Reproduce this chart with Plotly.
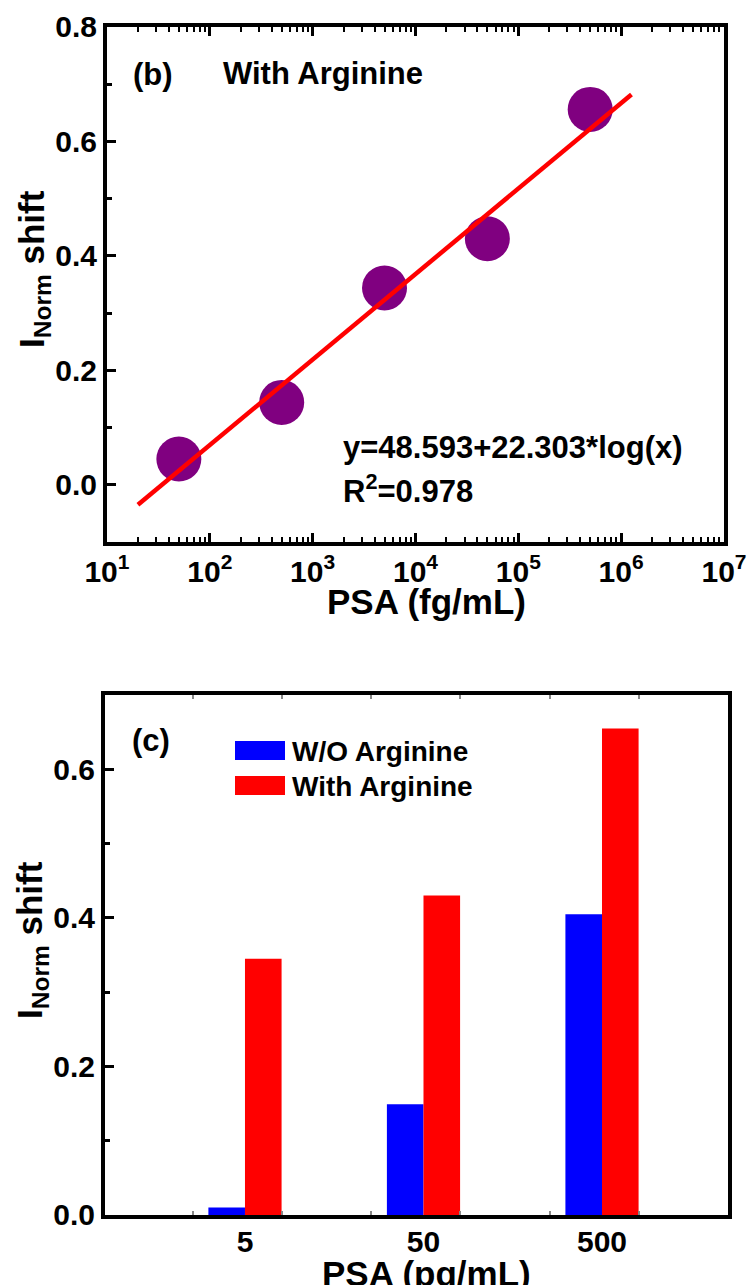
import plotly.graph_objects as go

# ---------------- Panel (b) data ----------------
psa_fg = [50, 500, 5000, 50000, 500000]
shift_b = [0.045, 0.144, 0.344, 0.430, 0.656]
fit_x = [20, 1.26e6]
fit_y = [-0.035, 0.682]
log_tick_vals = [1e1, 1e2, 1e3, 1e4, 1e5, 1e6, 1e7]
log_tick_text = ["10<sup>1</sup>", "10<sup>2</sup>", "10<sup>3</sup>", "10<sup>4</sup>",
                 "10<sup>5</sup>", "10<sup>6</sup>", "10<sup>7</sup>"]

# ---------------- Panel (c) data ----------------
categories = ["5", "50", "500"]
wo_arginine = [0.010, 0.149, 0.405]
with_arginine = [0.345, 0.430, 0.655]

FONT = "Liberation Sans"
BLACK = "#000000"
W, H = 747, 1285
cat_idx = list(range(len(categories)))
minor_log = [k * 10 ** n for n in range(1, 7) for k in range(2, 10)]

fig = go.Figure()

fig.add_trace(go.Scatter(
    x=psa_fg, y=shift_b, mode="markers", name="With Arginine",
    marker=dict(size=45, color="#800080", line=dict(width=0)),
    xaxis="x", yaxis="y", showlegend=False))
fig.add_trace(go.Scatter(
    x=fit_x, y=fit_y, mode="lines", name="Linear fit",
    line=dict(color="#ff0000", width=4.5),
    xaxis="x", yaxis="y", showlegend=False))

fig.add_trace(go.Bar(
    x=cat_idx, y=wo_arginine, name="W/O Arginine",
    marker=dict(color="#0000ff", line=dict(width=0)),
    xaxis="x2", yaxis="y2", showlegend=False))
fig.add_trace(go.Bar(
    x=cat_idx, y=with_arginine, name="With Arginine",
    marker=dict(color="#ff0000", line=dict(width=0)),
    xaxis="x2", yaxis="y2", showlegend=False))

tickfont = dict(family=FONT, size=30, color=BLACK, weight="bold")
titlefont = dict(family=FONT, size=35, color=BLACK, weight="bold")
annfont = dict(family=FONT, size=31, color=BLACK, weight="bold")
legfont = dict(family=FONT, size=28, color=BLACK, weight="bold")

axis_common = dict(showline=True, linecolor=BLACK, linewidth=4, showgrid=False,
                   zeroline=False, ticks="inside", tickcolor=BLACK, tickwidth=3,
                   tickfont=tickfont, automargin=False)

fig.update_layout(
    width=W, height=H,
    margin=dict(l=0, r=0, t=0, b=0, autoexpand=False),
    paper_bgcolor="white", plot_bgcolor="white",
    barmode="group", bargap=0.59, bargroupgap=0,
    xaxis=dict(axis_common, type="log", domain=[0.1432, 0.9692], range=[1, 7],
               anchor="y", mirror="ticks", tickmode="array",
               tickvals=log_tick_vals, ticktext=log_tick_text, ticklen=9,
               ticklabelstandoff=0,
               minor=dict(ticks="inside", ticklen=5, tickwidth=2, tickcolor=BLACK,
                          tickmode="array", tickvals=minor_log)),
    yaxis=dict(axis_common, domain=[0.5782, 0.979], range=[-0.1, 0.8],
               anchor="x", mirror=True, tick0=0, dtick=0.2, ticklen=9,
               tickformat=".1f",
               minor=dict(ticks="inside", ticklen=5, tickwidth=3, tickcolor=BLACK,
                          tick0=0, dtick=0.1)),
    xaxis2=dict(axis_common, domain=[0.1406, 0.9746], range=[-0.784, 2.706],
                anchor="y2", mirror="ticks", tickmode="array",
                tickvals=cat_idx, ticktext=categories, ticklen=0,
                ticklabelstandoff=-3,
                minor=dict(ticks="inside", ticklen=4, tickwidth=2, tickcolor="#888888",
                           tick0=0.207, dtick=0.5)),
    yaxis2=dict(axis_common, domain=[0.0545, 0.4591], range=[0, 0.7],
                anchor="x2", mirror=True, tick0=0, dtick=0.2, ticklen=9,
                tickformat=".1f",
                minor=dict(ticks="inside", ticklen=5, tickwidth=3, tickcolor=BLACK,
                           tick0=0, dtick=0.1)),
)

def px(x, y):
    return x / W, 1 - y / H

# axis titles
titles = [
    ("PSA (fg/mL)", 426, 601, 0),
    ("PSA (pg/mL)", 426, 1273, 0),
    ("I<sub>Norm</sub> shift", 34, 269, -90),
    ("I<sub>Norm</sub> shift", 32, 940, -90),
]
for text, x, y, ang in titles:
    ax_, ay_ = px(x, y)
    fig.add_annotation(text=text, x=ax_, y=ay_, xref="paper", yref="paper",
                       xanchor="center", yanchor="middle", textangle=ang,
                       showarrow=False, font=titlefont)

annotations = [
    ("(b)", 131, 74, annfont),
    ("With Arginine", 221, 73, annfont),
    ("y=48.593+22.303*log(x)", 341, 447, annfont),
    ("R<sup>2</sup>=0.978", 341, 489, annfont),
    ("(c)", 130, 741, annfont),
    ("W/O Arginine", 290, 751, legfont),
    ("With Arginine", 290, 786, legfont),
]
for text, x, y, f in annotations:
    ax_, ay_ = px(x, y)
    fig.add_annotation(text=text, x=ax_, y=ay_, xref="paper", yref="paper",
                       xanchor="left", yanchor="middle", showarrow=False, font=f)

# manual legend swatches for panel (c)
legend_items = [("#0000ff", 741, 760), ("#ff0000", 776, 795)]
for color, y0, y1 in legend_items:
    fig.add_shape(type="rect", xref="paper", yref="paper",
                  x0=235 / W, x1=285 / W, y0=1 - y1 / H, y1=1 - y0 / H,
                  fillcolor=color, line=dict(width=0))

fig.write_html("out.html", config={"displayModeBar": False},
               post_script="document.body.style.margin='0px';")
